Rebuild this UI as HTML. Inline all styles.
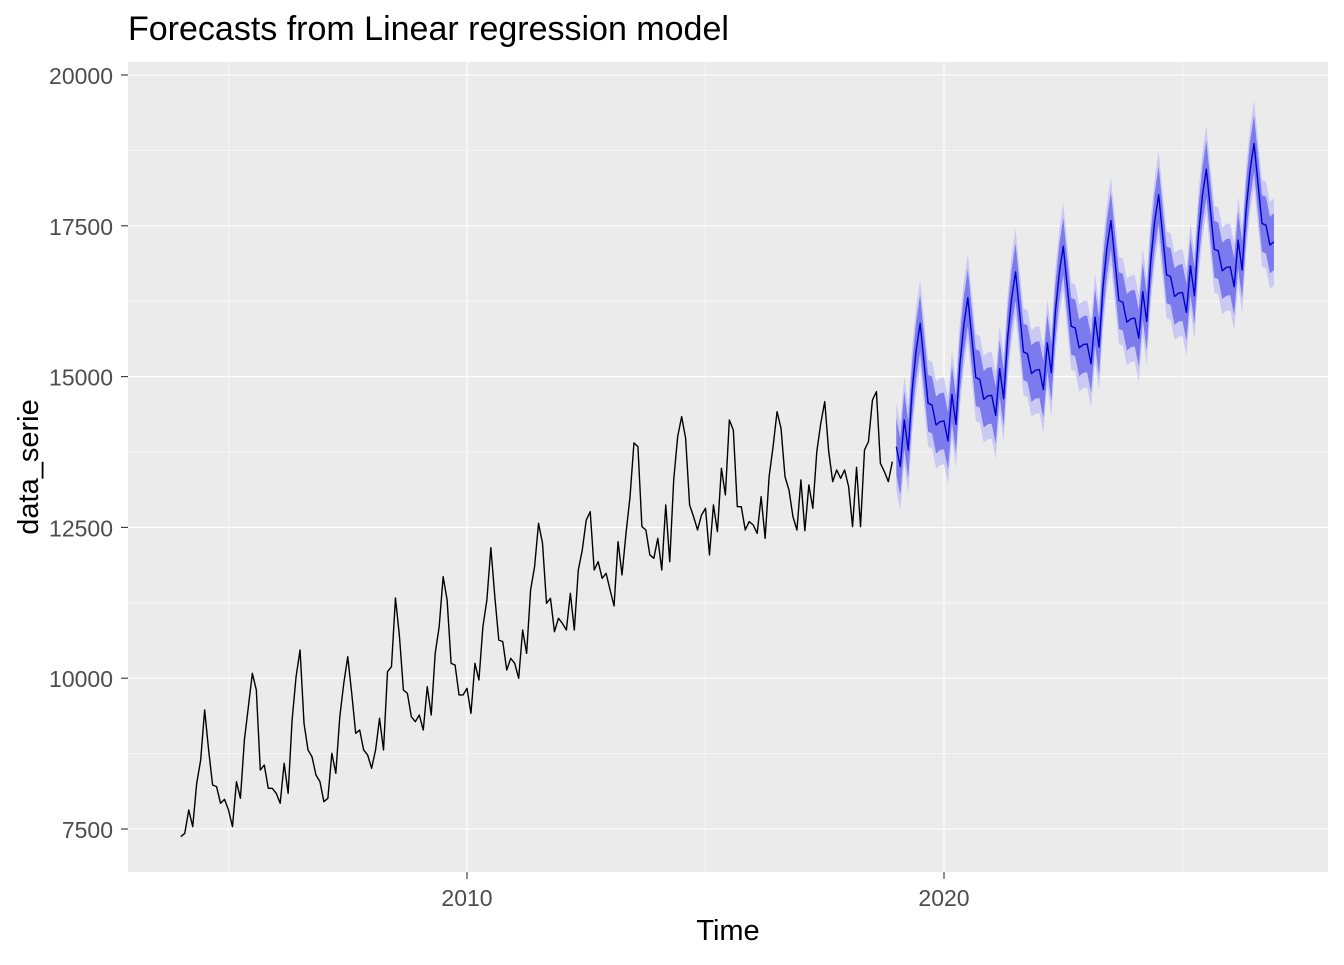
<!DOCTYPE html>
<html><head><meta charset="utf-8">
<style>
body{margin:0;background:#fff;font-family:"Liberation Sans",sans-serif;}
svg text{font-family:"Liberation Sans",sans-serif;}
</style></head>
<body>
<svg id="chart" width="1344" height="960" xmlns="http://www.w3.org/2000/svg">
<text x="128" y="40" font-size="34" fill="#000">Forecasts from Linear regression model</text>
<rect x="128" y="62" width="1200" height="810" fill="#ebebeb"/>
<g id="grid"></g>
<g id="bands"></g>
<g id="lines"></g>
<g id="axes"></g>
<text x="728" y="940" font-size="29" text-anchor="middle" fill="#000">Time</text>
<text x="0" y="0" font-size="29" text-anchor="middle" fill="#000" transform="translate(38,467) rotate(-90)">data_serie</text>
</svg>
<script>
const startYear = 2004;
const history = [7373,7428,7815,7539,8257,8644,9473,8810,8230,8202,7926,7992,
7815,7539,8285,8009,8976,9528,10081,9805,8478,8561,8175,8175,
8092,7926,8589,8092,9307,10025,10468,9252,8810,8699,8395,8285,
7953,8009,8755,8423,9362,9915,10357,9750,9086,9141,8810,8727,
8506,8810,9335,8810,10108,10191,11330,10700,9804,9749,9362,9279,
9390,9141,9859,9390,10412,10854,11683,11296,10246,10219,9722,9722,
9832,9417,10246,9970,10854,11296,12164,11351,10633,10606,10136,10329,
10246,9998,10799,10412,11462,11849,12567,12236,11241,11324,10771,10992,
10909,10799,11407,10799,11794,12125,12622,12761,11794,11932,11655,11738,
11462,11197,12263,11711,12401,13000,13900,13839,12513,12457,12043,11988,
12319,11794,12872,11932,13286,14005,14336,13977,12872,12678,12457,12706,
12817,12043,12872,12430,13480,13038,14281,14115,12844,12844,12457,12596,
12540,12402,13010,12319,13341,13839,14419,14143,13341,13120,12678,12457,
13286,12446,13203,12817,13756,14226,14585,13756,13259,13452,13314,13452,
13176,12513,13496,12513,13784,13922,14612,14751,13563,13424,13259,13590];
const forecastStart = 2019;
const forecast = [13838,13506,14281,13783,14778,15441,15883,15220,14557,14529,14198,14253,
14264,13932,14707,14209,15204,15867,16309,15646,14983,14955,14624,14679,
14690,14358,15133,14635,15630,16293,16735,16072,15409,15381,15050,15105,
15116,14784,15559,15061,16056,16719,17161,16498,15835,15807,15476,15531,
15542,15210,15985,15487,16482,17145,17587,16924,16261,16233,15902,15957,
15968,15636,16411,15913,16908,17571,18013,17350,16687,16659,16328,16383,
16394,16062,16837,16339,17334,17997,18439,17776,17113,17085,16754,16809,
16820,16488,17263,16765,17760,18423,18865,18202,17539,17511,17180,17235];
const halfWidth80 = [470];
const halfWidth95 = [720];
const yTicks = [7500,10000,12500,15000,17500,20000];
const yMinor = [8750,11250,13750,16250,18750];
const xTicks = [2010,2020];
const xMinor = [2005,2015,2025];

const NS="http://www.w3.org/2000/svg";
function X(t){return 467+(t-2010)*47.7;}
function Y(v){return 75+(20000-v)*0.06032;}
function mk(tag,attrs,parent){const e=document.createElementNS(NS,tag);for(const k in attrs)e.setAttribute(k,attrs[k]);document.getElementById(parent).appendChild(e);return e;}

yMinor.forEach(v=>{const e=mk('line',{x1:128,x2:1328,y1:Y(v),y2:Y(v),stroke:'#fff','stroke-width':0.55},'grid');

});
xMinor.forEach(v=>{const e=mk('line',{x1:X(v),x2:X(v),y1:62,y2:872,stroke:'#fff','stroke-width':0.55},'grid');

});
yTicks.forEach(v=>{const e=mk('line',{x1:128,x2:1328,y1:Y(v),y2:Y(v),stroke:'#fff','stroke-width':1.1},'grid');


const t=mk('line',{x1:121,x2:128,y1:Y(v),y2:Y(v),stroke:'#333','stroke-width':1.1},'axes');


const l=mk('text',{x:113,y:Y(v)+9,'font-size':23,'text-anchor':'end',fill:'#4d4d4d'},'axes');
l.textContent=v;

});
xTicks.forEach(v=>{const e=mk('line',{x1:X(v),x2:X(v),y1:62,y2:872,stroke:'#fff','stroke-width':1.1},'grid');


const t=mk('line',{x1:X(v),x2:X(v),y1:872,y2:879,stroke:'#333','stroke-width':1.1},'axes');


const l=mk('text',{x:X(v),y:906,'font-size':23,'text-anchor':'middle',fill:'#4d4d4d'},'axes');
l.textContent=v;

});

function band(hw,color,name){
  const up=[],lo=[];
  forecast.forEach((v,i)=>{const t=forecastStart+i/12;up.push(X(t).toFixed(2)+','+Y(v+hw).toFixed(2));lo.unshift(X(t).toFixed(2)+','+Y(v-hw).toFixed(2));});
  const e=mk('polygon',{points:up.concat(lo).join(' '),fill:color},'bands');
  
  
}
band(halfWidth95[0],'#c9c9f4','prediction-interval-95');
band(halfWidth80[0],'#7b7bee','prediction-interval-80');

const hp=history.map((v,i)=>X(startYear+i/12).toFixed(2)+','+Y(v).toFixed(2)).join(' ');
const h=mk('polyline',{points:hp,fill:'none',stroke:'#000','stroke-width':1.4,'stroke-linejoin':'round'},'lines');


const fp=forecast.map((v,i)=>X(forecastStart+i/12).toFixed(2)+','+Y(v).toFixed(2)).join(' ');
const f=mk('polyline',{points:fp,fill:'none',stroke:'#0000cc','stroke-width':1.4,'stroke-linejoin':'round'},'lines');


</script>
</body></html>
